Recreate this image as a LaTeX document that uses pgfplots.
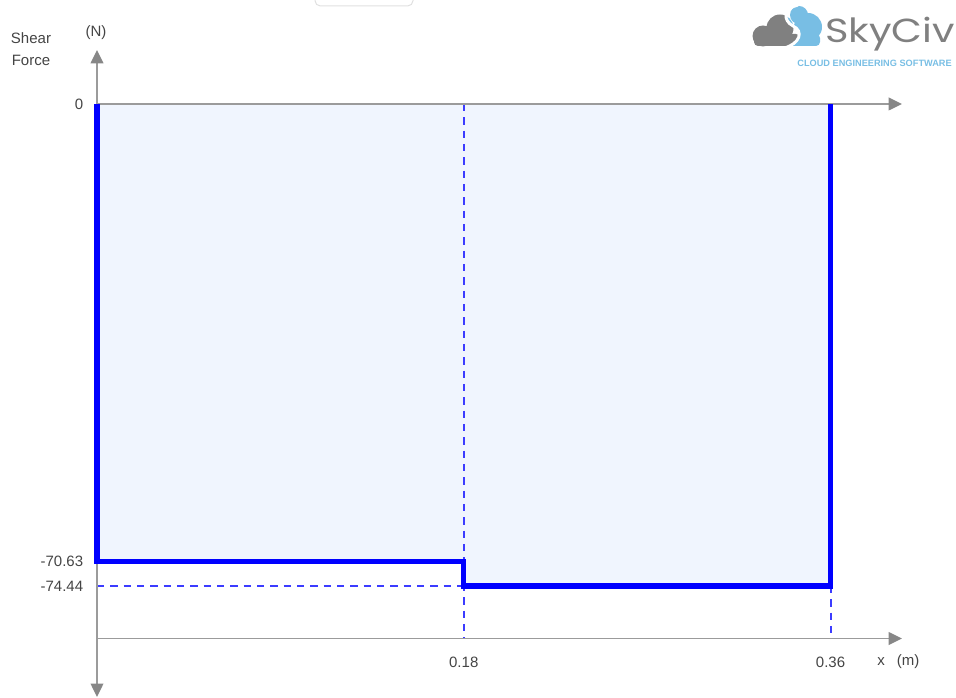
\documentclass[border=0pt]{standalone}
\usepackage{pgfplots}
\pgfplotsset{compat=1.18}
\usepackage{fontspec}
\setmainfont{Liberation Sans}
\newfontfamily\logofont{Poppins}
\usetikzlibrary{arrows.meta}
\definecolor{sfblue}{RGB}{0,0,255}
\definecolor{sffill}{RGB}{240,245,254}
\definecolor{axgray}{RGB}{155,155,155}
\definecolor{arrgray}{RGB}{135,135,135}
\definecolor{txt}{RGB}{68,68,68}
\definecolor{dashblue}{RGB}{60,60,255}
\definecolor{logoblue}{RGB}{120,190,228}
\definecolor{logogray}{RGB}{128,128,128}
\begin{document}
\begin{tikzpicture}[font=\fontsize{11.25}{13}\selectfont]
\begin{axis}[at={(0,0)},anchor=south west,scale only axis,
  width=717pt,height=523.5pt,
  xmin=-0.047607,xmax=0.421595,ymin=-91.737,ymax=16.062,
  axis lines=none,clip=false]
\path (rel axis cs:0,0) rectangle (rel axis cs:1,1);
% shaded area
\addplot[fill=sffill,draw=none] coordinates {(0,0)(0,-70.63)(0.18,-70.63)(0.18,-74.44)(0.36,-74.44)(0.36,0)};
% dashed guides
\addplot[dashblue,line width=1.5pt,dash pattern=on 5.5pt off 4.5pt] coordinates {(0.18,0)(0.18,-82.55)};
\addplot[dashblue,line width=1.5pt,dash pattern=on 5.5pt off 4.5pt] coordinates {(0.36,-74.44)(0.36,-82.55)};
\addplot[dashblue,line width=1.5pt,dash pattern=on 5.5pt off 4.5pt] coordinates {(0,-74.44)(0.18,-74.44)};
% axes
\draw[axgray,line width=1.1pt,-{Triangle[length=10pt,width=9.5pt,color=arrgray]}] (axis cs:0,0) -- (axis cs:0.3951,0);
\draw[axgray,line width=1.1pt,-{Triangle[length=10pt,width=9.5pt,color=arrgray]}] (axis cs:0,-82.55) -- (axis cs:0.3951,-82.55);
\draw[axgray,line width=1.1pt,{Triangle[length=10pt,width=9.5pt,color=arrgray]}-{Triangle[length=10pt,width=9.5pt,color=arrgray]}] (axis cs:0,-91.58) -- (axis cs:0,8.34);
% shear force line
\addplot[sfblue,line width=4pt,line join=miter] coordinates {(0,0)(0,-70.63)(0.18,-70.63)(0.18,-74.44)(0.36,-74.44)(0.36,0)};
% tick labels
\node[txt,anchor=east] at (axis cs:-0.0045,0) {0};
\node[txt,anchor=east] at (axis cs:-0.0045,-70.63) {-70.63};
\node[txt,anchor=east] at (axis cs:-0.0045,-74.44) {-74.44};
\node[txt] at (axis cs:0.18,-86.2) {0.18};
\node[txt] at (axis cs:0.36,-86.2) {0.36};
\end{axis}
\begin{scope}[x=0.75pt,y=-0.75pt,shift={(0,523.5pt)}]
% axis titles
\node[txt] at (31,38) {Shear};
\node[txt] at (31,60) {Force};
\node[txt] at (96,33) {(N)};
\node[txt] at (881,662) {x};
\node[txt] at (908,662) {(m)};
% faint box at top
\draw[black!12,line width=0.75pt,rounded corners=4pt] (315,-10) -- (315,6) -- (413,6) -- (413,-10);
% logo icon
\begin{scope}
\clip (740,-2) -- (798,-2) -- (798,5) .. controls (784,8) and (782,20) .. (793,26) .. controls (804,31) and (800,44) .. (784,48) -- (740,48) -- cycle;
\fill[logogray] (763,36) circle (10.5) (780,28) circle (13.5);
\fill[logogray,rounded corners=3pt] (754,34) rectangle (800,46);
\end{scope}
\begin{scope}
\clip (798,-2) -- (798,5) .. controls (784,8) and (782,20) .. (793,26) .. controls (804,31) and (800,44) .. (784,48) -- (830,48) -- (830,-2) -- cycle;
\fill[logoblue] (780,28) circle (13.5) (808,27) circle (14) (799,15) circle (9);
\fill[logoblue,rounded corners=3pt] (770,34) rectangle (820,46);
\end{scope}
\draw[white,line width=2.2pt] (798,5) .. controls (784,8) and (782,20) .. (793,26) .. controls (804,31) and (800,44) .. (784,48);
% logo text
\node[logogray,anchor=base west,inner sep=0pt] at (825,43) {\scalebox{1.2}[1]{\logofont\fontsize{25}{28}\selectfont SkyCiv}};
\node[logoblue,anchor=base east,inner sep=0pt] at (952,67) {\fontsize{6.9}{8}\selectfont\bfseries CLOUD ENGINEERING SOFTWARE};
\end{scope}
\pgfresetboundingbox
\path (0,0) rectangle (717pt,523.5pt);
\end{tikzpicture}
\end{document}
